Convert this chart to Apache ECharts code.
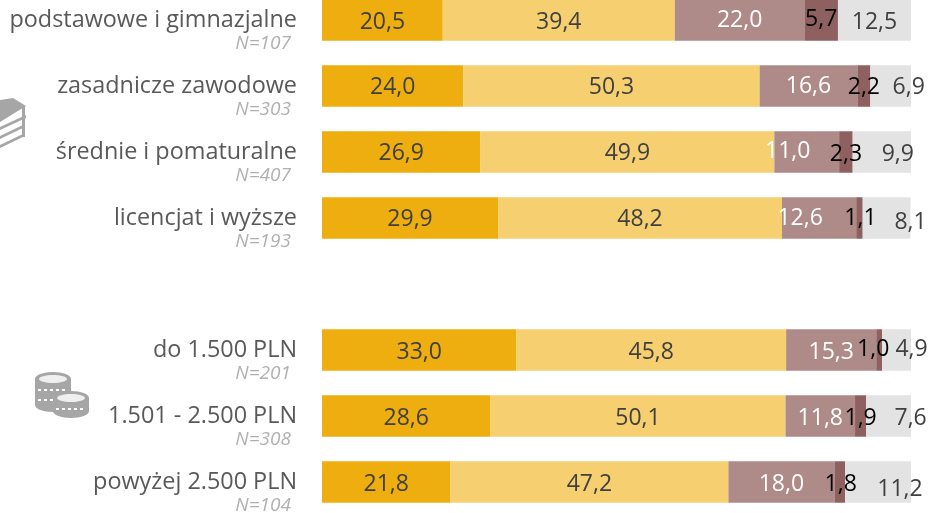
<!DOCTYPE html>
<html>
<head>
<meta charset="utf-8">
<style>html,body{margin:0;padding:0;background:#fff}#main{width:928px;height:513px}</style>
<script src="https://cdn.jsdelivr.net/npm/echarts@6/dist/echarts.min.js"></script>
</head>
<body>
<div id="main"></div>
<script>
// empty category in the middle keeps the gap between the two groups
const categories = ['podstawowe i gimnazjalne', 'zasadnicze zawodowe', 'średnie i pomaturalne', 'licencjat i wyższe', '', 'do 1.500 PLN', '1.501 - 2.500 PLN', 'powyżej 2.500 PLN']
const counts = ['N=107', 'N=303', 'N=407', 'N=193', '', 'N=201', 'N=308', 'N=104']

const s1 = [20.5, 24.0, 26.9, 29.9, null, 33.0, 28.6, 21.8]
const s2 = [39.4, 50.3, 49.9, 48.2, null, 45.8, 50.1, 47.2]
const s3 = [22.0, 16.6, 11.0, 12.6, null, 15.3, 11.8, 18.0]
const s4 = [5.7, 2.2, 2.3, 1.1, null, 1.0, 1.9, 1.8]
const s5 = [12.5, 6.9, 9.9, 8.1, null, 4.9, 7.6, 11.2]

// hand moved labels in the original, [dx, dy] per row
const shift1 = [[0, 2], [0, 1], [0, 1], [0, 1], null, [0, 2], [0, 2], [0, 2]]
const shift3 = [[0, 0], [0, 0], [-19, -1], [-19, 0], null, [0, 2], [0, 2], [0, 2]]
const shift4 = [[0, -1], [0, 1], [0, 2], [1, 0], null, [-6, -1], [0, 2], [1, 2]]
const shift5 = [[0, 2], [18, 1], [16, 2], [24, 4], null, [15, -1], [22, 2], [22, 7]]

const font = '"Open Sans"'
const iconGrey = '#A6A6A6'

var makeSeries = function (name, values, color, labelColor, shift) {
  return {
    name: name,
    type: 'bar',
    stack: 'all',
    barWidth: 41.5,
    animation: false,
    itemStyle: { color: color },
    label: { show: true, position: 'inside', color: labelColor, fontFamily: font, fontSize: 23,
      formatter: function (p) { return p.value.toFixed(1).replace('.', ',') } },
    data: values.map(function (v, i) {
      var item = { value: v }
      if (shift && shift[i]) item.label = { offset: shift[i] }
      return item
    })
  }
}

// icon pieces
var poly = function (points, fill) {
  return { type: 'polygon', silent: true, shape: { points: points }, style: { fill: fill } }
}
var ellipse = function (cx, cy, rx, ry, fill) {
  return { type: 'ellipse', silent: true, shape: { cx: cx, cy: cy, rx: rx, ry: ry }, style: { fill: fill } }
}
var dots = function (x1, y1, x2, y2) {
  return { type: 'line', silent: true, shape: { x1: x1, y1: y1, x2: x2, y2: y2 },
    style: { stroke: '#fff', lineWidth: 2, lineDash: [3, 3] } }
}
var coinStack = function (cx, top, rx, ry, h) {
  return [
    ellipse(cx, top + h, rx, ry, iconGrey),
    { type: 'rect', silent: true, shape: { x: cx - rx, y: top, width: rx * 2, height: h }, style: { fill: iconGrey } },
    ellipse(cx, top, rx, ry, iconGrey),
    ellipse(cx, top, rx - 4, ry - 3, '#EFEFEF')
  ]
}

var books = [
  poly([[0, 100], [13, 98], [26, 106], [0, 122]], iconGrey),
  poly([[0, 127], [26, 115], [26, 118], [0, 130]], iconGrey),
  poly([[0, 136], [25, 124], [25, 127], [0, 139]], iconGrey),
  poly([[0, 145], [25, 133], [25, 136], [0, 148]], iconGrey),
  poly([[22, 107], [25, 106], [25, 137], [22, 137]], iconGrey)
]
var coins = [].concat(
  coinStack(53, 379, 18, 7, 26),
  [dots(38, 390, 68, 390), dots(38, 400, 60, 400)],
  coinStack(71, 398, 18, 7, 13),
  [dots(56, 409, 86, 409)]
)

var myChart = echarts.init(document.getElementById('main'))
myChart.setOption({
  animation: false,
  backgroundColor: '#fff',
  grid: { left: 322, top: -13, width: 589, height: 528, outerBoundsMode: 'none' },
  xAxis: { type: 'value', min: 0, max: 100, show: false },
  yAxis: {
    type: 'category',
    inverse: true,
    data: categories,
    axisLine: { show: false },
    axisTick: { show: false },
    axisLabel: {
      interval: 0,
      margin: 25,
      align: 'right',
      formatter: function (value, i) {
        if (!value) return ''
        return '{e| }\n{a|' + value + '}\n{b|' + counts[i] + '}'
      },
      rich: {
        e: { fontSize: 12, lineHeight: 24 },
        a: { fontFamily: font, fontSize: 23.4, color: '#595959', lineHeight: 24, align: 'right' },
        b: { fontFamily: font, fontSize: 19, fontStyle: 'italic', color: '#b0b0b0', lineHeight: 24, align: 'right', padding: [0, 6, 0, 0] }
      }
    }
  },
  series: [
    makeSeries('s1', s1, '#EEAE10', '#404040', shift1),
    makeSeries('s2', s2, '#F5CF70', '#404040', shift1),
    makeSeries('s3', s3, '#AE8A88', '#ffffff', shift3),
    makeSeries('s4', s4, '#8F6060', '#000000', shift4),
    makeSeries('s5', s5, '#E3E3E3', '#404040', shift5)
  ],
  graphic: books.concat(coins)
})
</script>
</body>
</html>
